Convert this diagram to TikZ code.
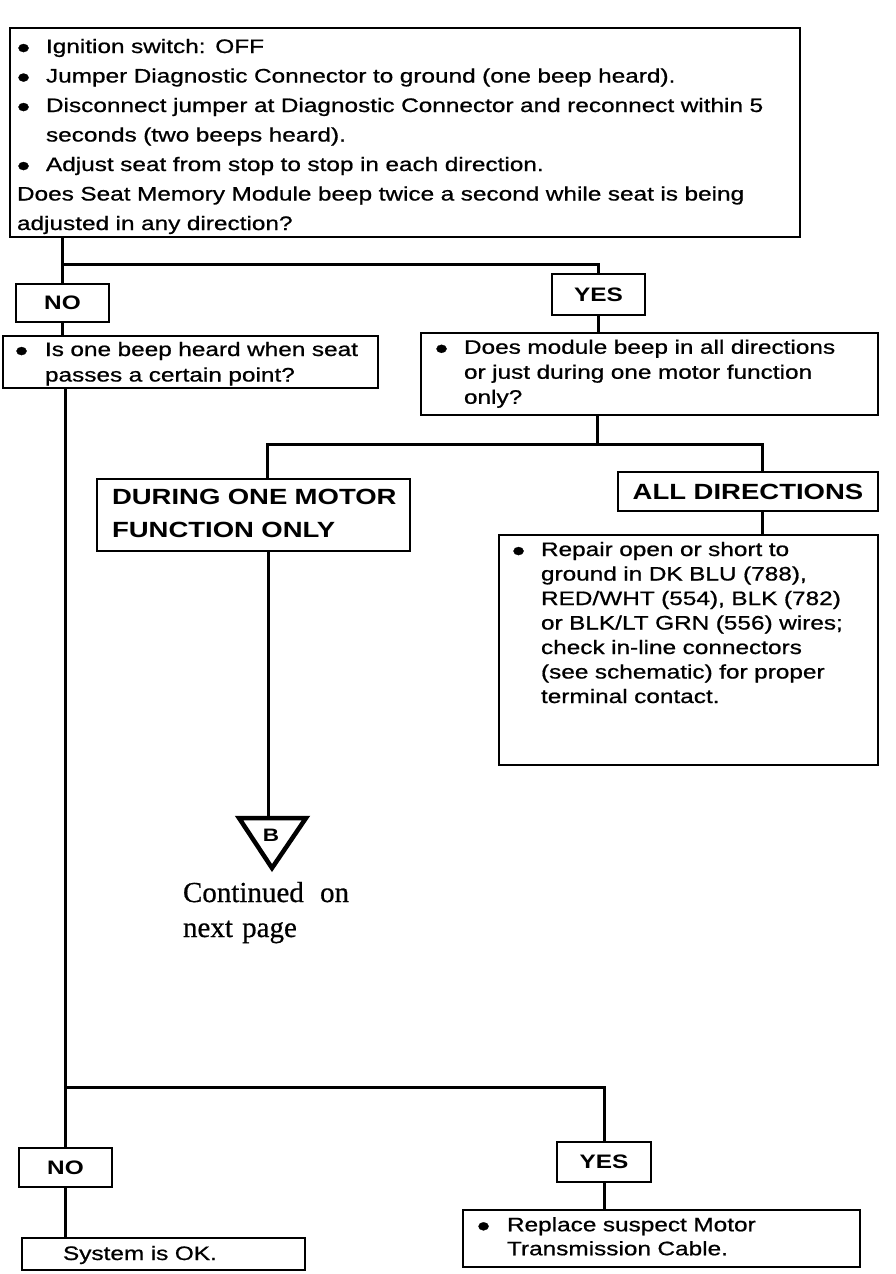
\documentclass[tikz,border=0pt]{standalone}
\usepackage{fontspec}
\newfontfamily\hv{Liberation Sans}[FakeStretch=1.25, UprightFeatures={FakeBold=0.8}]
\newfontfamily\tms{Liberation Serif}[FakeBold=0.6]
\usetikzlibrary{calc}
\newcommand{\bul}[1]{\makebox[#1][l]{\raisebox{-5pt}{\fontsize{30}{30}\selectfont\textbullet}}}
\begin{document}
\begin{tikzpicture}[x=1pt,y=-1pt,
  every node/.style={inner sep=0pt, outer sep=0pt},
  box/.style={draw, line width=2.4pt, rectangle, anchor=north west, align=left},
  lab/.style={draw, line width=2.4pt, rectangle, align=center, font=\hv\bfseries\fontsize{19.5}{22}\selectfont},
  conn/.style={line width=3pt},
  tri/.style={line width=4.5pt, line join=miter}]
\useasboundingbox (0,0) rectangle (896,1274);

% top box
\node[box, minimum width=790pt, minimum height=209pt, text width=776pt, inner xsep=6pt,
  font=\hv\fontsize{19.5}{29.5}\selectfont] (top) at (10,28) {%
\mbox{\bul{29pt}Ignition switch: OFF\rule{0pt}{23pt}}\\
\mbox{\bul{29pt}Jumper Diagnostic Connector to ground (one beep heard).}\\
\mbox{\bul{29pt}Disconnect jumper at Diagnostic Connector and reconnect within 5}\\
\mbox{\hspace*{29pt}seconds (two beeps heard).}\\
\mbox{\bul{29pt}Adjust seat from stop to stop in each direction.}\\
\mbox{Does Seat Memory Module beep twice a second while seat is being}\\
\mbox{adjusted in any direction?\rule[-5pt]{0pt}{5pt}}};

\node[lab, minimum width=93pt, minimum height=38pt] (no1) at (62.5,303) {NO};
\node[lab, minimum width=93pt, minimum height=41pt] (yes1) at (598.5,294.5) {YES};

\node[box, minimum width=375pt, minimum height=52pt, text width=351pt, inner xsep=12pt,
  font=\hv\fontsize{19.5}{25.5}\selectfont] (qleft) at (3,336) {%
\mbox{\bul{30pt}Is one beep heard when seat\rule{0pt}{18.5pt}}\\
\mbox{\hspace*{30pt}passes a certain point?\rule[-5pt]{0pt}{5pt}}};

\node[box, minimum width=457pt, minimum height=82pt, text width=429pt, inner xsep=14pt,
  font=\hv\fontsize{19.5}{25}\selectfont] (qright) at (421,333) {%
\mbox{\bul{29pt}Does module beep in all directions\rule{0pt}{14.5pt}}\\
\mbox{\hspace*{29pt}or just during one motor function}\\
\mbox{\hspace*{29pt}only?\rule[-5pt]{0pt}{5pt}}};

\node[box, minimum width=313pt, minimum height=72pt, text width=283pt, inner xsep=15pt,
  font=\hv\bfseries\fontsize{22}{33}\selectfont] (during) at (97,479) {%
\mbox{DURING ONE MOTOR\rule{0pt}{16pt}}\\
\mbox{FUNCTION ONLY\rule[-5pt]{0pt}{5pt}}};

\node[lab, minimum width=260pt, minimum height=39pt, font=\hv\bfseries\fontsize{22}{26}\selectfont] (alldir) at (748,491.5) {ALL DIRECTIONS};

\node[box, minimum width=379pt, minimum height=230pt, text width=353pt, inner xsep=13pt,
  font=\hv\fontsize{19.5}{24.5}\selectfont] (repair) at (499,535) {%
\mbox{\bul{29pt}Repair open or short to\rule{0pt}{15pt}}\\
\mbox{\hspace*{29pt}ground in DK BLU (788),}\\
\mbox{\hspace*{29pt}RED/WHT (554), BLK (782)}\\
\mbox{\hspace*{29pt}or BLK/LT GRN (556) wires;}\\
\mbox{\hspace*{29pt}check in-line connectors}\\
\mbox{\hspace*{29pt}(see schematic) for proper}\\
\mbox{\hspace*{29pt}terminal contact.\rule[-56pt]{0pt}{56pt}}};

% triangle B
\coordinate (triL) at (239,818);
\coordinate (triR) at (306,818);
\coordinate (triA) at (272,868);
\coordinate (tri) at (268,818);
\draw[tri] (triL) -- (triR) -- (triA) -- cycle;
\node[font=\hv\bfseries\fontsize{18}{18}\selectfont] (bmark) at (271,835) {B};

\node[anchor=base west, font=\tms\fontsize{29}{35}\selectfont] (cont1) at (183,902) {Continued\hspace{9pt} on};
\node[anchor=base west, font=\tms\fontsize{29}{35}\selectfont] (cont2) at (183,937) {next\hspace{2pt} page};

\node[lab, minimum width=93pt, minimum height=39pt] (no2) at (65.5,1167.5) {NO};
\node[lab, minimum width=94pt, minimum height=40pt] (yes2) at (604,1162) {YES};

\node[box, minimum width=283pt, minimum height=32pt, text width=201pt, inner xsep=41pt,
  font=\hv\fontsize{19.5}{24}\selectfont] (sysok) at (22,1238) {%
\mbox{System is OK.\rule{0pt}{17pt}\rule[-5pt]{0pt}{5pt}}};

\node[box, minimum width=397pt, minimum height=57pt, text width=369pt, inner xsep=14pt,
  font=\hv\fontsize{19.5}{24}\selectfont] (replace) at (463,1210) {%
\mbox{\bul{30pt}Replace suspect Motor\rule{0pt}{14.5pt}}\\
\mbox{\hspace*{30pt}Transmission Cable.\rule[-5pt]{0pt}{5pt}}};

% connectors
\coordinate (c1) at (62,264);
\draw[conn] (top.south -| c1) -- (c1) -| (yes1.north);
\draw[conn] (c1) -- (c1 |- no1.north);
\draw[conn] (no1.south) -- (no1.south |- qleft.north);
\draw[conn] (yes1.south) -- (yes1.south |- qright.north);
\coordinate (c2) at (597,444);
\coordinate (c3) at (267,444);
\coordinate (c4) at (762,444);
\draw[conn] (qright.south -| c2) -- (c2);
\draw[conn] (c3 |- during.north) -- (c3) -- (c4) -- (c4 |- alldir.north);
\draw[conn] (alldir.south -| c4) -- (c4 |- repair.north);
\draw[conn] (during.south -| tri) -- (tri);
\coordinate (c5) at (65,1087);
\draw[conn] (qleft.south -| c5) -- (c5 |- no2.north);
\draw[conn] (c5) -| (yes2.north);
\draw[conn] (no2.south) -- (no2.south |- sysok.north);
\draw[conn] (yes2.south) -- (yes2.south |- replace.north);
\end{tikzpicture}
\end{document}
